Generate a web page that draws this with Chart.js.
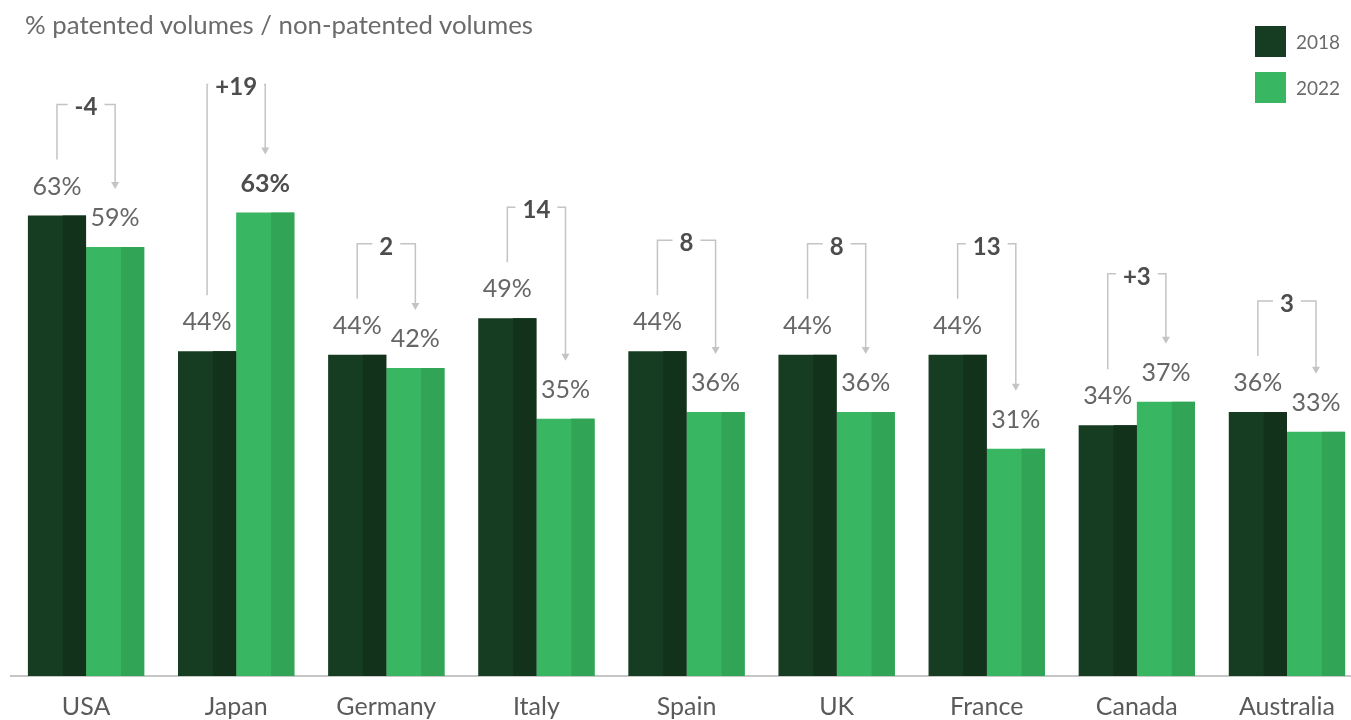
<!DOCTYPE html>
<html>
<head>
<meta charset="utf-8">
<script src="https://cdn.jsdelivr.net/npm/chart.js@4.4.1/dist/chart.umd.min.js"></script>
<style>
  html, body { margin: 0; padding: 0; background: #fff; overflow: hidden; }
  #wrap { position: relative; width: 1362px; height: 720px; }
  #title { position: absolute; left: 25px; top: 9px; font: 25.8px Lato, sans-serif; color: #6b6b6b; }
  #legend { position: absolute; left: 1255px; top: 26px; font: 19px Lato, sans-serif; color: #6b6b6b; }
  .item { display: flex; align-items: center; height: 31px; margin-bottom: 15px; }
  .sw { width: 31px; height: 31px; margin-right: 10px; }
</style>
</head>
<body>
<div id="wrap">
  <canvas id="chart" width="1362" height="720"></canvas>
  <div id="title">% patented volumes / non-patented volumes</div>
  <div id="legend"></div>
</div>
<script>
var countries = ['USA', 'Japan', 'Germany', 'Italy', 'Spain', 'UK', 'France', 'Canada', 'Australia'];
var values2018 = [62.8, 44.3, 43.8, 48.8, 44.3, 43.8, 43.8, 34.2, 36.0];
var values2022 = [58.5, 63.2, 42.0, 35.1, 36.0, 36.0, 31.0, 37.4, 33.3];
var labels2018 = ['63%', '44%', '44%', '49%', '44%', '44%', '44%', '34%', '36%'];
var labels2022 = ['59%', '63%', '42%', '35%', '36%', '36%', '31%', '37%', '33%'];
var deltas = ['-4', '+19', '2', '14', '8', '8', '13', '+3', '3'];
var highlightIndex = 1;

var colors = [
    {main: '#163d21', shade: '#12321b'},
    {main: '#38b662', shade: '#31a456'}
];

// legend
var legend = document.getElementById('legend');
['2018', '2022'].forEach(function(name, i) {
    legend.innerHTML += '<div class="item"><div class="sw" style="background:' + colors[i].main + '"></div>' + name + '</div>';
});

var annotations = {
    id: 'annotations',
    afterDatasetsDraw: function(chart) {
        var c = chart.ctx;
        var y = chart.scales.y;
        var m0 = chart.getDatasetMeta(0).data;
        var m1 = chart.getDatasetMeta(1).data;

        // darker right side of each bar
        [m0, m1].forEach(function(bars, d) {
            c.fillStyle = colors[d].shade;
            bars.forEach(function(b) {
                var w = b.width;
                c.fillRect(b.x + w * 0.1, b.y, w * 0.4, b.base - b.y);
            });
        });

        c.textAlign = 'center';
        c.textBaseline = 'middle';
        countries.forEach(function(name, i) {
            var a = m0[i], b = m1[i];
            c.fillStyle = '#666';
            c.font = '25px Lato, sans-serif';
            c.fillText(labels2018[i], a.x, a.y - 29);
            if (i === highlightIndex) {
                c.fillStyle = '#4d4d4d';
                c.font = 'bold 25px Lato, sans-serif';
            }
            c.fillText(labels2022[i], b.x, b.y - 29);

            // bracket
            var up = values2022[i] > values2018[i];
            var top = y.getPixelForValue(Math.max(values2018[i], values2022[i])) - (up ? 128 : 111);
            var leftEnd = a.y - 56;
            var tip = b.y - 58;
            var mid = (a.x + b.x) / 2;
            c.font = 'bold 24px Lato, sans-serif';
            var half = c.measureText(deltas[i]).width / 2 + 7;

            c.strokeStyle = '#c4c4c4';
            c.lineWidth = 1.5;
            c.beginPath();
            c.moveTo(a.x, leftEnd);
            c.lineTo(a.x, top);
            c.lineTo(mid - half, top);
            c.moveTo(mid + half, top);
            c.lineTo(b.x, top);
            c.lineTo(b.x, tip - 6);
            c.stroke();
            c.fillStyle = '#c4c4c4';
            c.beginPath();
            c.moveTo(b.x - 4, tip - 7);
            c.lineTo(b.x + 4, tip - 7);
            c.lineTo(b.x, tip);
            c.closePath();
            c.fill();

            c.fillStyle = '#4d4d4d';
            c.fillText(deltas[i], mid, top + 3);
        });
    }
};

new Chart(document.getElementById('chart').getContext('2d'), {
    type: 'bar',
    data: {
        labels: countries,
        datasets: [
            {label: '2018', data: values2018, backgroundColor: colors[0].main},
            {label: '2022', data: values2022, backgroundColor: colors[1].main}
        ]
    },
    options: {
        responsive: false,
        animation: false,
        layout: {padding: {left: 11, right: 0, top: 0, bottom: 0}},
        categoryPercentage: 0.775,
        barPercentage: 1,
        plugins: {legend: {display: false}, tooltip: {enabled: false}},
        scales: {
            x: {
                grid: {display: false},
                border: {display: true, color: '#c6c6c6', width: 2},
                ticks: {color: '#5a5a5a', font: {family: 'Lato', size: 25}, padding: 8},
                afterFit: function(scale) { scale.height = 44; }
            },
            y: {display: false, min: 0, max: 92.2}
        }
    },
    plugins: [annotations]
});
</script>
</body>
</html>
